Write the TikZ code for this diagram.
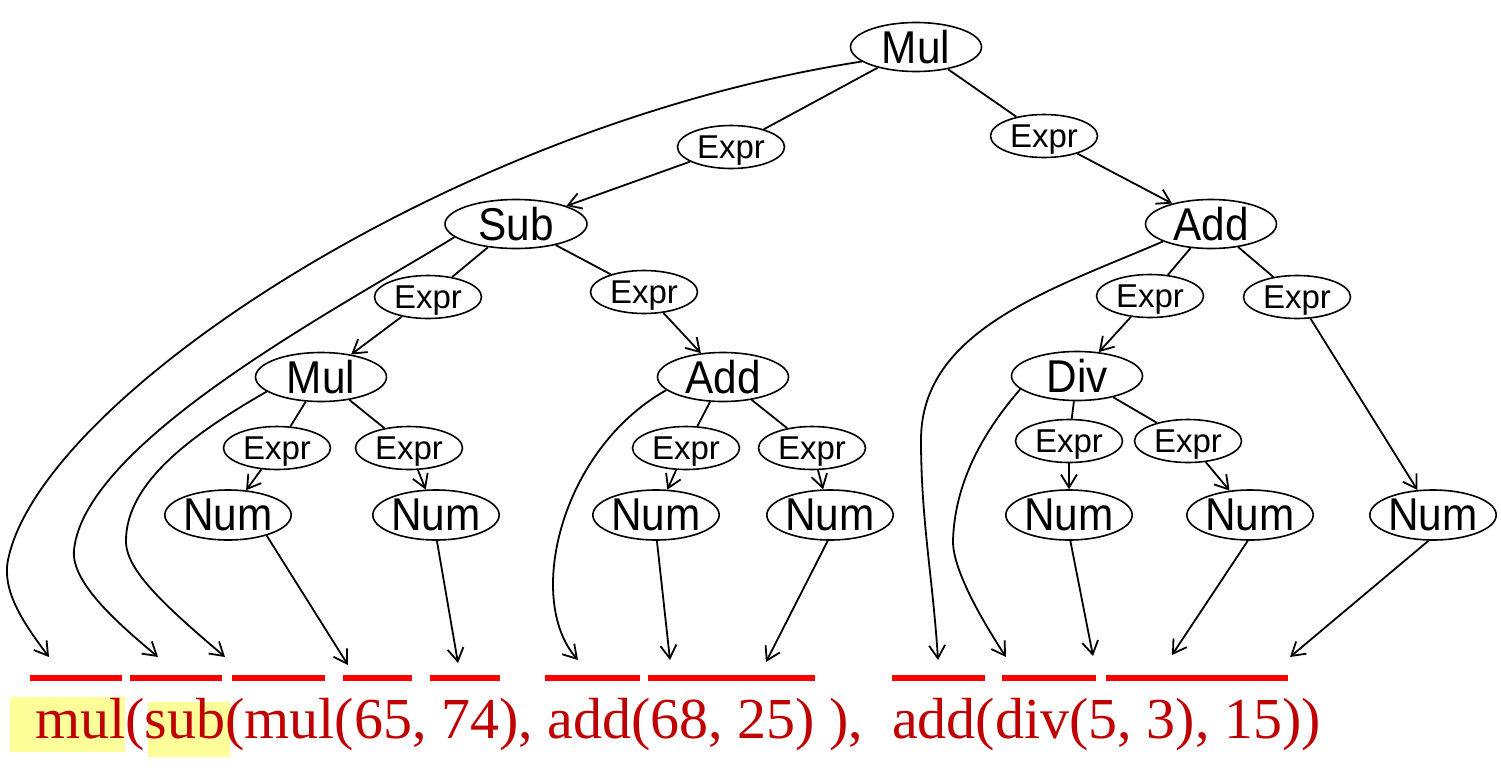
\documentclass[tikz,border=0pt]{standalone}
\usepackage{fontspec}
\setmainfont{Liberation Serif}
\setsansfont{Liberation Sans}
\newfontfamily\labelfont[FakeStretch=0.92]{Liberation Sans}
\usetikzlibrary{arrows.meta,shapes.geometric}
\definecolor{txtred}{RGB}{192,0,0}
\definecolor{barred}{RGB}{255,0,0}
\definecolor{hl}{RGB}{255,255,153}
\begin{document}
\begin{tikzpicture}[x=1pt,y=-1pt,
  big/.style={ellipse,draw,line width=1.6pt,inner sep=0pt,minimum width=131pt,minimum height=49pt,font=\labelfont\fontsize{46}{46}\selectfont},
  ex/.style={ellipse,draw,line width=1.6pt,inner sep=0pt,minimum width=107pt,minimum height=43pt,text depth=0pt,font=\sffamily\fontsize{33}{33}\selectfont},
  num/.style={big,minimum width=119pt,minimum height=50pt},
  ln/.style={line width=1.8pt},
  arr/.style={line width=1.8pt,-{Straight Barb[length=13pt,width=16pt]}},
  bar/.style={line width=6pt,barred}
]
\useasboundingbox (0,0) rectangle (1501,780);
% highlights
\fill[hl] (10,697) rectangle (125,752);
\fill[hl] (148,702) rectangle (230,757);
% code text
\node[anchor=base west,inner sep=0pt,text=txtred,font=\fontsize{58}{58}\selectfont] (code) at (35,738) {mul(sub(mul(65, 74), add(68, 25) ),\ \ add(div(5, 3), 15))};
% bars
\draw[bar] (30,678) -- (122,678);
\draw[bar] (130,678) -- (222,678);
\draw[bar] (232,678) -- (325,678);
\draw[bar] (343,678) -- (412,678);
\draw[bar] (430,678) -- (500,678);
\draw[bar] (545,678) -- (640,678);
\draw[bar] (648,678) -- (815,678);
\draw[bar] (892,678) -- (985,678);
\draw[bar] (1002,678) -- (1096,678);
\draw[bar] (1106,678) -- (1288,678);
% nodes
\node[big] (mulA) at (916,47) {Mul};
\node[ex] (exA) at (731,147) {Expr};
\node[ex] (exB) at (1044,136) {Expr};
\node[big,minimum width=142pt] (sub) at (516,224) {Sub};
\node[big] (addR) at (1211,224) {Add};
\node[ex] (exC) at (428,297) {Expr};
\node[ex] (exD) at (644,292) {Expr};
\node[ex] (exE) at (1150,296) {Expr};
\node[ex] (exF) at (1297,297) {Expr};
\node[big] (mulB) at (321,377) {Mul};
\node[big] (addM) at (723,377) {Add};
\node[big] (div) at (1077,376) {Div};
\node[ex] (exG) at (277,448) {Expr};
\node[ex] (exH) at (409,448) {Expr};
\node[ex] (exI) at (686,448) {Expr};
\node[ex] (exJ) at (812,448) {Expr};
\node[ex] (exK) at (1069,441) {Expr};
\node[ex] (exL) at (1188,441) {Expr};
\node[num] (numA) at (228,515) {Num};
\node[num] (numB) at (436,515) {Num};
\node[num] (numC) at (656,515) {Num};
\node[num] (numD) at (830,515) {Num};
\node[num] (numE) at (1069,515) {Num};
\node[num] (numF) at (1250,515) {Num};
\node[num] (numG) at (1433,515) {Num};
% tree edges
\draw[ln] (mulA) -- (exA); \draw[arr] (exA) -- (sub);
\draw[ln] (mulA) -- (exB); \draw[arr] (exB) -- (addR);
\draw[ln] (sub) -- (exC); \draw[arr] (exC) -- (mulB);
\draw[ln] (sub) -- (exD); \draw[arr] (exD) -- (addM);
\draw[ln] (addR) -- (exE); \draw[arr] (exE) -- (div);
\draw[ln] (addR) -- (exF); \draw[arr] (exF) -- (numG);
\draw[ln] (mulB) -- (exG); \draw[arr] (exG) -- (numA);
\draw[ln] (mulB) -- (exH); \draw[arr] (exH) -- (numB);
\draw[ln] (addM) -- (exI); \draw[arr] (exI) -- (numC);
\draw[ln] (addM) -- (exJ); \draw[arr] (exJ) -- (numD);
\draw[ln] (div) -- (exK); \draw[arr] (exK) -- (numE);
\draw[ln] (div) -- (exL); \draw[arr] (exL) -- (numF);
% arrow targets
\coordinate (t1) at (49,657);
\coordinate (t2) at (158,657);
\coordinate (t3) at (225,657);
\coordinate (t4) at (348,665);
\coordinate (t5) at (458,663);
\coordinate (t6) at (578,660);
\coordinate (t7) at (670,660);
\coordinate (t8) at (766,662);
\coordinate (t9) at (938,660);
\coordinate (t10) at (1006,657);
\coordinate (t11) at (1093,656);
\coordinate (t12) at (1172,655);
\coordinate (t13) at (1290,657);
% curved arrows
\draw[arr] (mulA.195) .. controls (450,125) and (40,400) .. (8,560)
  .. controls (1.6,592) and (25,625) .. (t1);
\draw[arr] (sub.192) .. controls (348,303) and (85,440) .. (74,550)
  .. controls (70.7,583) and (120,625) .. (t2);
\draw[arr] (mulB.195) .. controls (200,430) and (125,480) .. (126,542)
  .. controls (126.5,572) and (170,610) .. (t3);
\draw[arr] (addM.193) .. controls (560,450) and (525,600) .. (t6);
\draw[arr] (addR.200) .. controls (1050,290) and (921,330) .. (921,440)
  .. controls (921,520) and (933,580) .. (t9);
\draw[arr] (div.193) .. controls (985,430) and (955,480) .. (953,540)
  .. controls (952,570) and (985,625) .. (t10);
% straight arrows
\draw[arr] (numA.-28) -- (t4);
\draw[arr] (numB.-88) -- (t5);
\draw[arr] (numC.-88) -- (t7);
\draw[arr] (numD.-95) -- (t8);
\draw[arr] (numE.-87) -- (t11);
\draw[arr] (numF.-95) -- (t12);
\draw[arr] (numG.-100) -- (t13);
\end{tikzpicture}
\end{document}
